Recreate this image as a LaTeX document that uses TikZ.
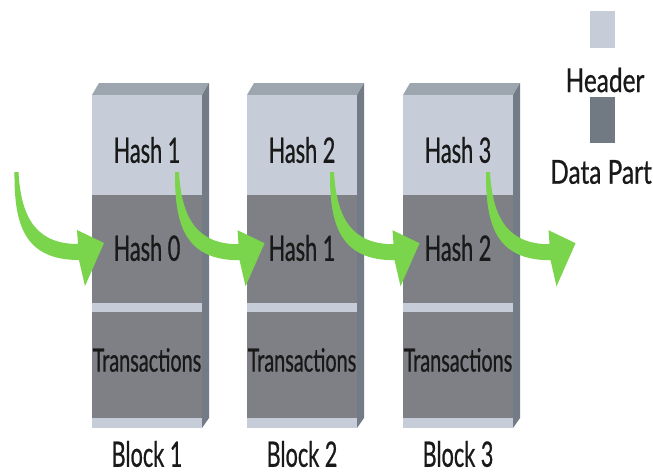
\documentclass[tikz,border=0pt]{standalone}
\usepackage{fontspec}
\setmainfont{Lato}[FakeStretch=0.62,FakeBold=0.6]
\newfontfamily\legendfont{Lato}[FakeStretch=0.74,FakeBold=0.6]
\usetikzlibrary{calc}

\definecolor{headgray}{RGB}{198,205,217}
\definecolor{datagray}{RGB}{126,128,134}
\definecolor{sidegray}{RGB}{115,123,134}
\definecolor{topgray}{RGB}{157,165,175}
\definecolor{keygray}{RGB}{113,121,131}
\definecolor{linkgreen}{RGB}{122,212,76}
\definecolor{inkblack}{RGB}{25,25,25}

\tikzset{
    pics/hasharrow/.style={code={
        \fill[linkgreen] (-1.5,0) .. controls (-2,52) and (8,88) .. (63,88)
            -- (69,114) -- (88,71) -- (61,58) -- (62,72)
            .. controls (22,72) and (5,48) .. (2.5,0) -- cycle;
    }}
}

\begin{document}
\begin{tikzpicture}[x=1pt,y=-1pt,
    labeltext/.style={inner sep=0pt,text=inkblack},
    hashtext/.style={labeltext,font=\fontsize{35}{35}\selectfont},
    txtext/.style={labeltext,font=\fontsize{32}{32}\selectfont},
    blocktext/.style={labeltext,font=\fontsize{35}{35}\selectfont},
    keytext/.style={labeltext,font=\legendfont\fontsize{33}{33}\selectfont},
    keybox/.style={minimum width=25pt,inner sep=0pt}]
    \useasboundingbox[fill=white] (0,0) rectangle (653,475);

    \foreach \n/\x in {1/92,2/247,3/403} {
        \pgfmathtruncatemacro\prev{\n-1}
        \fill[topgray] (\x,95) -- (\x+7,83) -- (\x+117,83) -- (\x+110,95) -- cycle;
        \fill[sidegray] (\x+110,95) -- (\x+117,83) -- (\x+117,418) -- (\x+110,428) -- cycle;
        \fill[headgray] (\x,95) rectangle (\x+110,195);
        \fill[datagray] (\x,195) rectangle (\x+110,303);
        \fill[headgray] (\x,303) rectangle (\x+110,312);
        \fill[datagray] (\x,312) rectangle (\x+110,418);
        \fill[headgray] (\x,418) rectangle (\x+110,428);

        \node[hashtext] (hash\n) at (\x+55,150) {Hash \n};
        \node[hashtext] (prev\n) at (\x+55,248) {Hash \prev};
        \node[txtext] (tx\n) at (\x+55,360) {Transactions};
        \node[blocktext] (block\n) at (\x+55,454) {Block \n};
    }

    % legend
    \node[keybox,fill=headgray,minimum height=37pt] (keyhead) at (602.5,29.5) {};
    \node[keytext] (keyheadtext) at (605,80) {Header};
    \node[keybox,fill=keygray,minimum height=46pt] (keydata) at (602.5,120) {};
    \node[keytext] (keydatatext) at (601,172) {Data Part};

    % links between the blocks
    \coordinate (in1) at (16,172);
    \foreach \n in {1,2,3}
        \coordinate (in\the\numexpr\n+1\relax) at ($(hash\n.south east)+(-4,9)$);
    \foreach \n in {1,...,4}
        \pic at (in\n) {hasharrow};
\end{tikzpicture}
\end{document}
